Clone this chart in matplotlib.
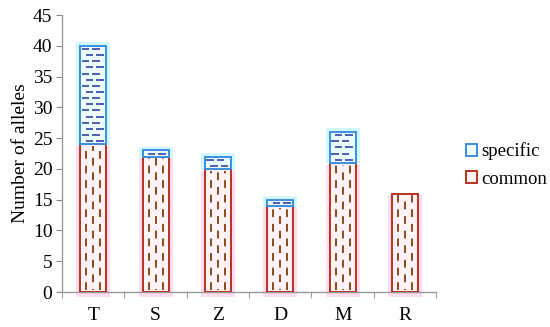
import matplotlib
matplotlib.use("Agg")
import matplotlib.pyplot as plt
import numpy as np

categories = ["T", "S", "Z", "D", "M", "R"]
common = [24, 22, 20, 14, 21, 16]
specific = [16, 1, 2, 1, 5, 0]

plt.rcParams['font.family'] = ['Liberation Serif', 'DejaVu Serif']

fig = plt.figure(figsize=(5.5, 3.27), dpi=100)
ax = fig.add_axes([0.113, 0.107, 0.68, 0.847])

x = np.arange(len(categories))
w = 0.42
common = np.array(common)
specific = np.array(specific)

red_edge = "#b5331f"
blue_edge = "#3d8ee0"

# soft glow behind the bars
ax.bar(x, common + 0.5, width=w + 0.13, bottom=-0.8, color="#ffdcef", zorder=1, clip_on=False)
mask = specific > 0
ax.bar(x[mask], specific[mask] + 0.7, width=w + 0.13, bottom=common[mask] - 0.1,
       color="#cff9ff", zorder=1)

ax.bar(x, common, width=w, color="#fff3f8", edgecolor=red_edge, linewidth=1.4,
       zorder=3, label="common")
ax.bar(x[mask], specific[mask], width=w, bottom=common[mask], color="#ecfcff",
       edgecolor=blue_edge, linewidth=1.4, zorder=3, label="specific")

# dashed pattern inside bars
for xi, c, s in zip(x, common, specific):
    for k, off in enumerate([-0.27, 0.0, 0.27]):
        ax.vlines(xi + off * w, 0.3, c - 0.3, colors="#8a4a1c",
                  linestyles=(0 if k != 1 else 3.5, (4, 3.5)),
                  linewidth=1.4, zorder=4)
    if s > 0:
        rows = np.arange(c + 0.5, c + s, 1.0)
        for j, yv in enumerate(rows):
            offs = [-0.15, 0.25] if j % 2 == 0 else [-0.3, 0.1]
            for off in offs:
                ax.hlines(yv, xi + off * w - 0.06, xi + off * w + 0.06, colors="#4a5fb0",
                          linewidth=1.4, zorder=4)

ax.set_xlim(-0.5, len(categories) - 0.5)
ax.set_ylim(0, 45)
ax.set_yticks(np.arange(0, 46, 5))
ax.set_xticks(x)
ax.set_xticklabels(categories)
ax.set_xticks(np.arange(-0.5, len(categories), 1.0), minor=True)
ax.tick_params(axis="x", which="major", length=0, pad=11, labelsize=14)
ax.tick_params(axis="x", which="minor", length=4, color="#888888", direction="out")
ax.tick_params(axis="y", length=4, color="#888888", direction="out", labelsize=14, pad=3)

for side in ["top", "right"]:
    ax.spines[side].set_visible(False)
for side in ["left", "bottom"]:
    ax.spines[side].set_color("#999999")
    ax.spines[side].set_linewidth(1.0)

ax.set_ylabel("Number of alleles", fontsize=14, labelpad=3)

handles, labels = ax.get_legend_handles_labels()
fig.legend(handles[::-1], labels[::-1], loc="center left", bbox_to_anchor=(0.847, 0.495),
           frameon=False, fontsize=13.5, handlelength=0.6, handleheight=0.6,
           handletextpad=0.2, labelspacing=0.55, borderpad=0, borderaxespad=0)

fig.savefig("out.png", dpi=100)
